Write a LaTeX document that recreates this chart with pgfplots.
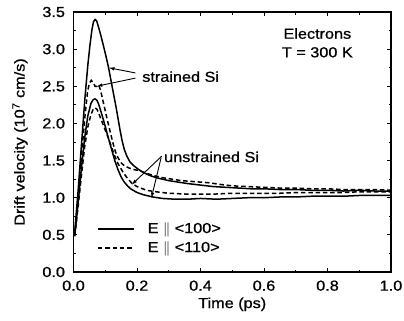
\documentclass[border=0pt]{standalone}
\usepackage{fontspec}
\setmainfont{Liberation Sans}[FakeStretch=1.12, FakeBold=0.8]
\usepackage{pgfplots}
\pgfplotsset{compat=1.18}
\usetikzlibrary{arrows.meta}
\begin{document}
\begin{tikzpicture}[font=\fontsize{14.5}{17}\selectfont]
\begin{axis}[
  scale only axis, width=317.5pt, height=260pt,
  xmin=0, xmax=1, ymin=0, ymax=3.5,
  xtick={0,0.2,0.4,0.6,0.8,1}, ytick={0,0.5,1,1.5,2,2.5,3,3.5},
  minor x tick num=1, minor y tick num=1,
  tick align=inside, major tick length=4pt, minor tick length=2.5pt,
  axis line style={line width=1.4pt}, tick style={line width=1pt, black},
  /pgf/number format/fixed, /pgf/number format/fixed zerofill,
  /pgf/number format/precision=1, /pgf/number format/assume math mode=true,
  xticklabel style={yshift=-5pt}, yticklabel style={xshift=-5pt},
  xlabel={Time (ps)},
  xlabel style={at={(axis description cs:0.5,0)}, anchor=north, yshift=-22pt},
  ylabel={Drift velocity (10\textsuperscript{7} cm/s)},
  ylabel style={at={(axis description cs:-0.1685,0.5)}, anchor=center},
  legend style={at={(axis cs:0.074,0.45)}, anchor=west, draw=none, fill=none,
    inner sep=0pt, row sep=5pt, column sep=12pt,
    nodes={inner sep=1pt, text height=10pt, text depth=2pt}},
  legend image code/.code={\draw[#1] (0pt,0pt) -- (36pt,0pt);},
  legend cell align=left,
]
% strained Si, E || <100>
\addplot[black, line width=1.5pt] coordinates {
(0.004,0.55)(0.015,1.12)(0.025,1.71)(0.036,2.34)(0.045,2.78)(0.052,3.06)(0.058,3.26)(0.063,3.37)(0.068,3.40)(0.073,3.38)(0.08,3.28)(0.087,3.17)(0.094,3.05)(0.102,2.91)(0.110,2.76)(0.118,2.58)(0.126,2.40)(0.134,2.22)(0.141,2.05)(0.147,1.90)(0.153,1.77)(0.16,1.65)(0.168,1.56)(0.178,1.48)(0.19,1.43)(0.205,1.38)(0.22,1.34)(0.24,1.30)(0.26,1.27)(0.28,1.25)(0.30,1.23)(0.33,1.21)(0.36,1.19)(0.40,1.17)(0.44,1.15)(0.48,1.14)(0.52,1.13)(0.56,1.12)(0.60,1.12)(0.65,1.11)(0.70,1.11)(0.75,1.10)(0.80,1.10)(0.85,1.09)(0.90,1.10)(0.95,1.09)(1.0,1.09)
};
\addlegendentry{E \(\parallel\) <100>}
% strained Si, E || <110>
\addplot[black, line width=1.5pt, dash pattern=on 4.5pt off 2.8pt] coordinates {
(0.004,0.5)(0.015,1.0)(0.025,1.55)(0.035,2.05)(0.044,2.42)(0.05,2.54)(0.056,2.58)(0.062,2.55)(0.068,2.50)(0.074,2.50)(0.079,2.52)(0.085,2.45)(0.092,2.32)(0.10,2.17)(0.108,2.02)(0.116,1.88)(0.124,1.74)(0.132,1.62)(0.14,1.54)(0.15,1.47)(0.16,1.43)(0.175,1.40)(0.19,1.38)(0.21,1.36)(0.23,1.33)(0.25,1.30)(0.28,1.27)(0.31,1.25)(0.34,1.23)(0.37,1.22)(0.40,1.21)(0.43,1.20)(0.46,1.18)(0.50,1.16)(0.55,1.15)(0.60,1.14)(0.65,1.13)(0.70,1.13)(0.75,1.12)(0.80,1.12)(0.85,1.11)(0.90,1.11)(0.95,1.11)(1.0,1.10)
};
\addlegendentry{E \(\parallel\) <110>}
% unstrained Si, E || <100>
\addplot[black, line width=1.5pt, forget plot] coordinates {
(0.004,0.5)(0.015,0.95)(0.025,1.40)(0.035,1.80)(0.045,2.10)(0.055,2.27)(0.062,2.32)(0.068,2.33)(0.074,2.31)(0.08,2.25)(0.09,2.11)(0.10,1.96)(0.11,1.80)(0.12,1.65)(0.13,1.50)(0.14,1.38)(0.15,1.28)(0.16,1.21)(0.17,1.16)(0.18,1.12)(0.20,1.07)(0.22,1.04)(0.25,1.01)(0.28,0.99)(0.32,0.98)(0.36,0.98)(0.40,0.99)(0.45,0.98)(0.50,0.99)(0.55,1.00)(0.60,1.00)(0.65,1.01)(0.70,1.01)(0.75,1.02)(0.80,1.02)(0.85,1.02)(0.90,1.03)(0.95,1.03)(1.0,1.03)
};
% unstrained Si, E || <110>
\addplot[black, line width=1.5pt, dash pattern=on 4.5pt off 2.8pt, forget plot] coordinates {
(0.004,0.48)(0.015,0.9)(0.025,1.3)(0.035,1.68)(0.045,1.95)(0.055,2.12)(0.062,2.19)(0.068,2.21)(0.074,2.19)(0.08,2.13)(0.09,2.02)(0.10,1.91)(0.11,1.80)(0.12,1.68)(0.13,1.56)(0.14,1.46)(0.155,1.35)(0.17,1.26)(0.185,1.19)(0.20,1.15)(0.23,1.10)(0.26,1.08)(0.30,1.06)(0.35,1.05)(0.40,1.05)(0.45,1.05)(0.50,1.06)(0.55,1.06)(0.60,1.06)(0.65,1.06)(0.70,1.07)(0.75,1.07)(0.80,1.07)(0.85,1.07)(0.90,1.08)(0.95,1.08)(1.0,1.08)
};
\node[anchor=base] at (axis cs:0.768,3.14) {Electrons};
\node[anchor=base] at (axis cs:0.768,2.89) {T = 300 K};
\node[anchor=base west, inner sep=0pt] at (axis cs:0.216,2.56) {strained Si};
\node[anchor=base west, inner sep=0pt] at (axis cs:0.285,1.48) {unstrained Si};
\draw[-{Latex[length=6pt,width=3.5pt]}, line width=0.9pt] (axis cs:0.195,2.68) -- (axis cs:0.110,2.75);
\draw[-{Latex[length=6pt,width=3.5pt]}, line width=0.9pt] (axis cs:0.195,2.61) -- (axis cs:0.072,2.50);
\draw[-{Latex[length=6pt,width=3.5pt]}, line width=0.9pt] (axis cs:0.278,1.56) -- (axis cs:0.182,1.17);
\draw[-{Latex[length=6pt,width=3.5pt]}, line width=0.9pt] (axis cs:0.276,1.54) -- (axis cs:0.245,0.99);
\end{axis}
\pgfresetboundingbox
\path ([shift={(-73.5pt,-49pt)}]current axis.south west) rectangle ([shift={(13pt,12pt)}]current axis.north east);
\end{tikzpicture}
\end{document}
